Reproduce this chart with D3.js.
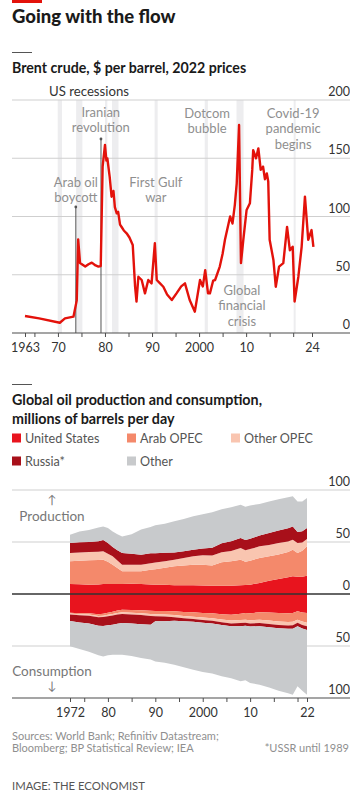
<!DOCTYPE html>
<html><head><meta charset="utf-8">
<script src="https://cdn.jsdelivr.net/npm/d3@7"></script>
<style>
body{margin:0;background:#fff;}
svg{display:block;font-family:Lato,"Open Sans",sans-serif;}
</style></head>
<body>
<svg id="c" width="350" height="793"></svg>
<script>
// ---------- Chart 1: Brent crude, $ per barrel, 2022 prices ----------
const priceYears = [1963,1966,1970.4,1971.5,1973.3,1974.0,1974.3,1974.7,1975.8,1976.5,1977.2,1978.0,1978.6,1979.1,1979.5,1980.0,1980.3,1980.5,1981.0,1981.4,1981.8,1982.1,1982.5,1982.8,1983.2,1983.5,1984.0,1984.6,1985.2,1985.9,1986.4,1986.7,1987.1,1987.8,1988.5,1989.2,1989.9,1990.6,1991.0,1991.6,1992.4,1993.2,1994.2,1995.2,1996.2,1997.0,1998.0,1999.1,2000.2,2000.8,2001.3,2001.9,2002.3,2003.0,2003.4,2004.4,2005.0,2005.5,2006.6,2007.1,2007.6,2008.0,2008.5,2008.9,2009.4,2010.1,2010.8,2011.3,2011.5,2012.1,2012.6,2013.1,2013.6,2014.0,2014.4,2014.7,2015.0,2015.8,2016.3,2017.0,2017.9,2018.7,2019.3,2019.9,2020.3,2021.1,2021.8,2022.5,2023.2,2023.9,2024.3];
const priceValues = [14.6,12.5,8.8,12.6,14,28,80.4,60,57,59,60.4,58,57,57.5,142.8,161.4,148,150,134,117,122,108,102.7,104,93,91.2,88,85.6,82,75.5,39.7,26.9,48.3,45.5,34,45.5,42.6,77,45.5,43,39.7,33,28.3,34,40,42.6,28.3,18.3,45.5,40,54,34,34,45,45.5,57,68,80,100,94,110,128.5,178.5,60,80,105.6,111.3,140,157,150,158.5,140,142.8,132,137,130,80,62.7,39.7,57,60,91,71,74,27,48.3,74,117,80,88.4,74];
const recessions = [[1969.95,1970.87],[1973.87,1975.2],[1980.0,1980.5],[1981.5,1982.87],[1990.55,1991.2],[2001.2,2001.87],[2007.95,2009.45],[2020.1,2020.35]];
const priceTicks = [0,50,100,150,200];
const yearTicks1 = [1963,1965,1970,1975,1980,1985,1990,1995,2000,2005,2010,2015,2020,2024];
const yearLabels1 = {1963:"1963",1970:"70",1980:"80",1990:"90",2000:"2000",2010:"10",2024:"24"};
const events = [
  {lines:["Iranian","revolution"], year:1979.15, labelYear:1979.1, top:139},
  {lines:["Arab oil","boycott"], year:1973.8, labelYear:1973.8, top:207},
  {lines:["First Gulf","war"], labelYear:1990.8},
  {lines:["Dotcom","bubble"], labelYear:2001.7},
  {lines:["Covid-19","pandemic","begins"], labelYear:2020.0},
  {lines:["Global","financial","crisis"], labelYear:2009.1}
];

// ---------- Chart 2: Global oil production and consumption ----------
const years2 = [1972,1974,1976,1978,1979,1980,1981,1982,1983,1985,1987,1989,1990,1992,1994,1996,1998,2000,2002,2004,2006,2008,2009,2010,2012,2014,2016,2018,2019,2020,2021,2022];
const groups = ["United States","Arab OPEC","Other OPEC","Russia*","Other"];
const groupColors = ["#e8141e","#f4896b","#f9c5b0","#a8101a","#c8cacc"];
const prodUS        = [9.6,9.4,9.0,9.2,9.5,9.6,9.5,9.6,9.6,9.8,9.5,9.2,9.0,8.8,8.5,8.5,8.5,8.2,8.0,8.0,8.0,8.5,8.6,9.0,10.6,12.8,14.5,16.0,17.0,16.5,16.6,17.6];
const prodArabOPEC  = [21.8,22.5,23.5,23.5,23.5,21.5,18.7,15.5,12.2,12.0,12.3,14.0,14.8,16.4,18.1,19.0,19.7,20.0,19.5,22.5,23.5,24.5,22.5,23.0,24.0,23.5,23.5,24.5,25.6,23.0,25.0,28.2];
const prodOtherOPEC = [8.0,8.0,8.0,8.0,8.0,7.5,8.0,7.0,6.4,6.4,6.4,6.4,6.4,6.4,6.4,7.0,8.0,9.0,9.6,9.6,9.8,11.2,11.0,11.2,11.2,10.8,11.0,10.0,9.6,9.6,8.0,7.1];
const prodRussia    = [9.6,9.8,9.6,10.0,11.0,10.5,9.0,10.0,11.2,10.5,9.6,9.6,9.0,8.0,7.0,6.5,6.4,6.6,7.4,8.8,9.4,9.6,9.8,10.0,10.4,11.5,12.0,12.8,12.8,10.5,10.8,10.6];
const prodOther     = [8.0,10.3,11.4,13.3,13.0,14.4,14.8,15.4,16.0,18.8,24.1,25.3,26.8,27.9,29.9,31.0,32.1,33.0,34.0,32.6,32.8,32.1,32.1,32.0,30.3,30.4,30.0,29.7,28.9,29.4,28.6,28.8];
const consUS        = [18,18.5,18.5,19.5,19,18,17,15.8,15.1,15.3,15.7,16.2,16.3,16.4,16.7,17.2,17.6,18.2,18.5,19.5,19.9,18.9,18.2,18.5,17.6,17.8,18.2,18.5,18.3,16.7,17.8,18.3];
const consArabOPEC  = [0.8,1.0,1.3,1.6,1.8,2.0,2.2,2.4,2.5,2.7,2.9,3.1,3.2,3.4,3.6,3.9,4.2,4.5,4.8,5.1,5.6,6.2,6.5,6.8,7.2,7.8,8.2,8.4,8.5,8.0,8.6,9.3];
const consOtherOPEC = [0.8,0.9,1.0,1.2,1.4,1.4,1.5,1.5,1.6,1.6,1.7,1.8,1.8,1.9,2.0,2.1,2.2,2.3,2.4,2.6,2.8,2.9,3.0,3.0,3.1,3.2,3.3,3.3,3.3,3.0,3.3,3.5];
const consRussia    = [6.4,7.0,7.6,8.2,8.5,8.7,8.8,8.8,8.8,8.8,8.8,8.5,5.0,4.5,3.4,2.9,2.6,2.6,2.6,2.7,2.8,2.9,2.8,3.0,3.1,3.2,3.2,3.3,3.3,3.2,3.4,3.6];
const consOther     = [24.3,25.6,27.1,28.5,29.3,28.9,29.0,29.8,30.3,31.1,32.4,33.4,38.5,39.8,42.3,44.4,46.2,47.4,48.2,49.1,49.9,53.1,52.5,54.2,56.2,58.0,60.1,62.0,63.4,57.9,59.9,62.1];
const flowTicks = [-100,-50,0,50,100];
const yearTicks2 = [1972,1975,1980,1985,1990,1995,2000,2005,2010,2015,2020,2022];
const yearLabels2 = {1972:"1972",1980:"80",1990:"90",2000:"2000",2010:"10",2022:"22"};

// ---------- drawing ----------
const svg = d3.select("#c");
const W = 350;
const dark = "#1a1a1a", grey = "#8f8f8f", grid = "#cfcfcf", axisC = "#4d4d4d";

// header
svg.append("rect").attr("x",12).attr("y",0).attr("width",30).attr("height",3).attr("fill","#e3120b");
svg.append("text").attr("x",12).attr("y",23).attr("font-size",18.5).attr("font-weight",900).attr("fill",dark).text("Going with the flow");

// chart 1 title
svg.append("rect").attr("x",12).attr("y",52).attr("width",20).attr("height",1).attr("fill","#555");
svg.append("text").attr("x",12).attr("y",73).attr("font-size",14.2).attr("font-weight",700).attr("fill",dark).text("Brent crude, $ per barrel, 2022 prices");

const x1 = d3.scaleLinear().domain([1963,2024]).range([25,312]);
const y1 = d3.scaleLinear().domain([0,200]).range([333,100]);
const g1 = svg.append("g");

// recession bands
g1.selectAll("rect.rec").data(recessions).join("rect")
  .attr("x",d=>x1(d[0])).attr("width",d=>Math.max(2,x1(d[1])-x1(d[0])))
  .attr("y",y1(200)).attr("height",y1(0)-y1(200)).attr("fill","#ededef");

// gridlines + labels
g1.selectAll("line.grid").data(priceTicks.filter(d=>d>0)).join("line")
  .attr("x1",12).attr("x2",W).attr("y1",d=>y1(d)).attr("y2",d=>y1(d))
  .attr("stroke",grid).attr("stroke-width",1);
g1.selectAll("text.yl").data(priceTicks).join("text")
  .attr("x",W).attr("y",d=>y1(d)-4).attr("text-anchor","end")
  .attr("font-size",12.5).attr("fill","#333").text(d=>d);

svg.append("text").attr("x",89).attr("y",96).attr("text-anchor","middle")
  .attr("font-size",13.2).attr("fill","#333").text("US recessions");

// event annotations
const evG = g1.append("g");
events.forEach(ev=>{
  if(ev.year!==undefined){
    evG.append("line").attr("x1",x1(ev.year)).attr("x2",x1(ev.year))
      .attr("y1",ev.top).attr("y2",y1(0)).attr("stroke","#555").attr("stroke-width",1);
    evG.append("circle").attr("cx",x1(ev.year)).attr("cy",ev.top).attr("r",1.4).attr("fill","#555");
  }
});
const labelY = {"Iranian":116.5,"Arab oil":187,"First Gulf":187,"Dotcom":118,"Covid-19":118,"Global":295};
events.forEach(ev=>{
  const y0 = labelY[ev.lines[0]];
  const t = evG.append("text").attr("text-anchor","middle").attr("font-size",13).attr("fill",grey);
  ev.lines.forEach((l,i)=>t.append("tspan").attr("x",x1(ev.labelYear)).attr("y",y0+i*15.3).text(l));
});

// price line
g1.append("path").datum(priceYears.map((d,i)=>[d,priceValues[i]]))
  .attr("fill","none").attr("stroke","#e3120b").attr("stroke-width",2.4).attr("stroke-linejoin","round")
  .attr("d",d3.line().x(d=>x1(d[0])).y(d=>y1(d[1])));

// x axis
g1.append("line").attr("x1",12).attr("x2",W).attr("y1",y1(0)).attr("y2",y1(0)).attr("stroke",axisC).attr("stroke-width",1.2);
const ax1 = g1.append("g").attr("transform",`translate(0,${y1(0)})`)
  .call(d3.axisBottom(x1).tickValues(yearTicks1).tickSize(4).tickFormat(d=>yearLabels1[d]||""));
ax1.select(".domain").remove();
ax1.selectAll(".tick line").attr("stroke",axisC);
ax1.selectAll(".tick text").attr("font-size",12.5).attr("fill","#333").attr("font-family","Lato, sans-serif").attr("dy","0.95em");

// ---------- chart 2 ----------
svg.append("rect").attr("x",12).attr("y",384).attr("width",20).attr("height",1).attr("fill","#555");
const t2 = svg.append("text").attr("font-size",14.3).attr("font-weight",700).attr("fill",dark);
t2.append("tspan").attr("x",12).attr("y",405).text("Global oil production and consumption,");
t2.append("tspan").attr("x",12).attr("y",424).text("millions of barrels per day");

// legend
const legendPos = [[12,442],[127,442],[231,442],[12,465],[127,465]];
groups.forEach((gname,i)=>{
  const [lx,ly] = legendPos[i];
  svg.append("rect").attr("x",lx).attr("y",ly-8.5).attr("width",9).attr("height",9).attr("fill",groupColors[i]);
  svg.append("text").attr("x",lx+13).attr("y",ly+0.5).attr("font-size",12.6).attr("fill","#555").text(gname);
});

const x2 = d3.scaleLinear().domain([1972,2022]).range([70,307]);
const y2 = d3.scaleLinear().domain([-100,100]).range([698,490]);
const g2 = svg.append("g");

const prodRows = years2.map((yr,i)=>({year:yr,"United States":prodUS[i],"Arab OPEC":prodArabOPEC[i],"Other OPEC":prodOtherOPEC[i],"Russia*":prodRussia[i],"Other":prodOther[i]}));
const consRows = years2.map((yr,i)=>({year:yr,"United States":consUS[i],"Arab OPEC":consArabOPEC[i],"Other OPEC":consOtherOPEC[i],"Russia*":consRussia[i],"Other":consOther[i]}));
const stack = d3.stack().keys(groups);
const prodStack = stack(prodRows), consStack = stack(consRows);
const areaUp = d3.area().x(d=>x2(d.data.year)).y0(d=>y2(d[0])).y1(d=>y2(d[1]));
const areaDown = d3.area().x(d=>x2(d.data.year)).y0(d=>y2(-d[0])).y1(d=>y2(-d[1]));

// gridlines (behind)
g2.selectAll("line.g2").data([100,50,-50]).join("line")
  .attr("x1",12).attr("x2",W).attr("y1",d=>y2(d)).attr("y2",d=>y2(d)).attr("stroke",grid);

g2.selectAll("path.up").data(prodStack).join("path").attr("fill",(d,i)=>groupColors[i]).attr("d",areaUp);
g2.selectAll("path.down").data(consStack).join("path").attr("fill",(d,i)=>groupColors[i]).attr("d",areaDown);

g2.append("line").attr("x1",12).attr("x2",W).attr("y1",y2(0)).attr("y2",y2(0)).attr("stroke","#333").attr("stroke-width",1.3);
g2.append("line").attr("x1",12).attr("x2",W).attr("y1",y2(-100)).attr("y2",y2(-100)).attr("stroke",axisC).attr("stroke-width",1.2);
g2.selectAll("text.yl2").data(flowTicks).join("text")
  .attr("x",W).attr("y",d=>y2(d)-4).attr("text-anchor","end")
  .attr("font-size",12.5).attr("fill","#333").text(d=>Math.abs(d));

const ax2 = g2.append("g").attr("transform",`translate(0,${y2(-100)})`)
  .call(d3.axisBottom(x2).tickValues(yearTicks2).tickSize(4).tickFormat(d=>yearLabels2[d]||""));
ax2.select(".domain").remove();
ax2.selectAll(".tick line").attr("stroke",axisC);
ax2.selectAll(".tick text").attr("font-size",12.5).attr("fill","#333").attr("font-family","Lato, sans-serif").attr("dy","0.95em");

// production / consumption labels
svg.append("text").attr("x",52).attr("y",504).attr("text-anchor","middle").attr("font-size",12).attr("fill","#777").text("↑");
svg.append("text").attr("x",52).attr("y",521).attr("text-anchor","middle").attr("font-size",13.5).attr("fill","#777").text("Production");
svg.append("text").attr("x",52).attr("y",676).attr("text-anchor","middle").attr("font-size",13.5).attr("fill","#777").text("Consumption");
svg.append("text").attr("x",52).attr("y",690).attr("text-anchor","middle").attr("font-size",12).attr("fill","#777").text("↓");

// footer
const f = svg.append("text").attr("font-size",11).attr("fill","#8f8f8f");
f.append("tspan").attr("x",12).attr("y",740).text("Sources: World Bank; Refinitiv Datastream;");
f.append("tspan").attr("x",12).attr("y",752).text("Bloomberg; BP Statistical Review; IEA");
svg.append("text").attr("x",W-1).attr("y",752).attr("text-anchor","end").attr("font-size",11).attr("fill","#8f8f8f").text("*USSR until 1989");
svg.append("text").attr("x",12).attr("y",790).attr("font-size",11.3).attr("fill","#555").text("IMAGE: THE ECONOMIST");
</script>
</body></html>
